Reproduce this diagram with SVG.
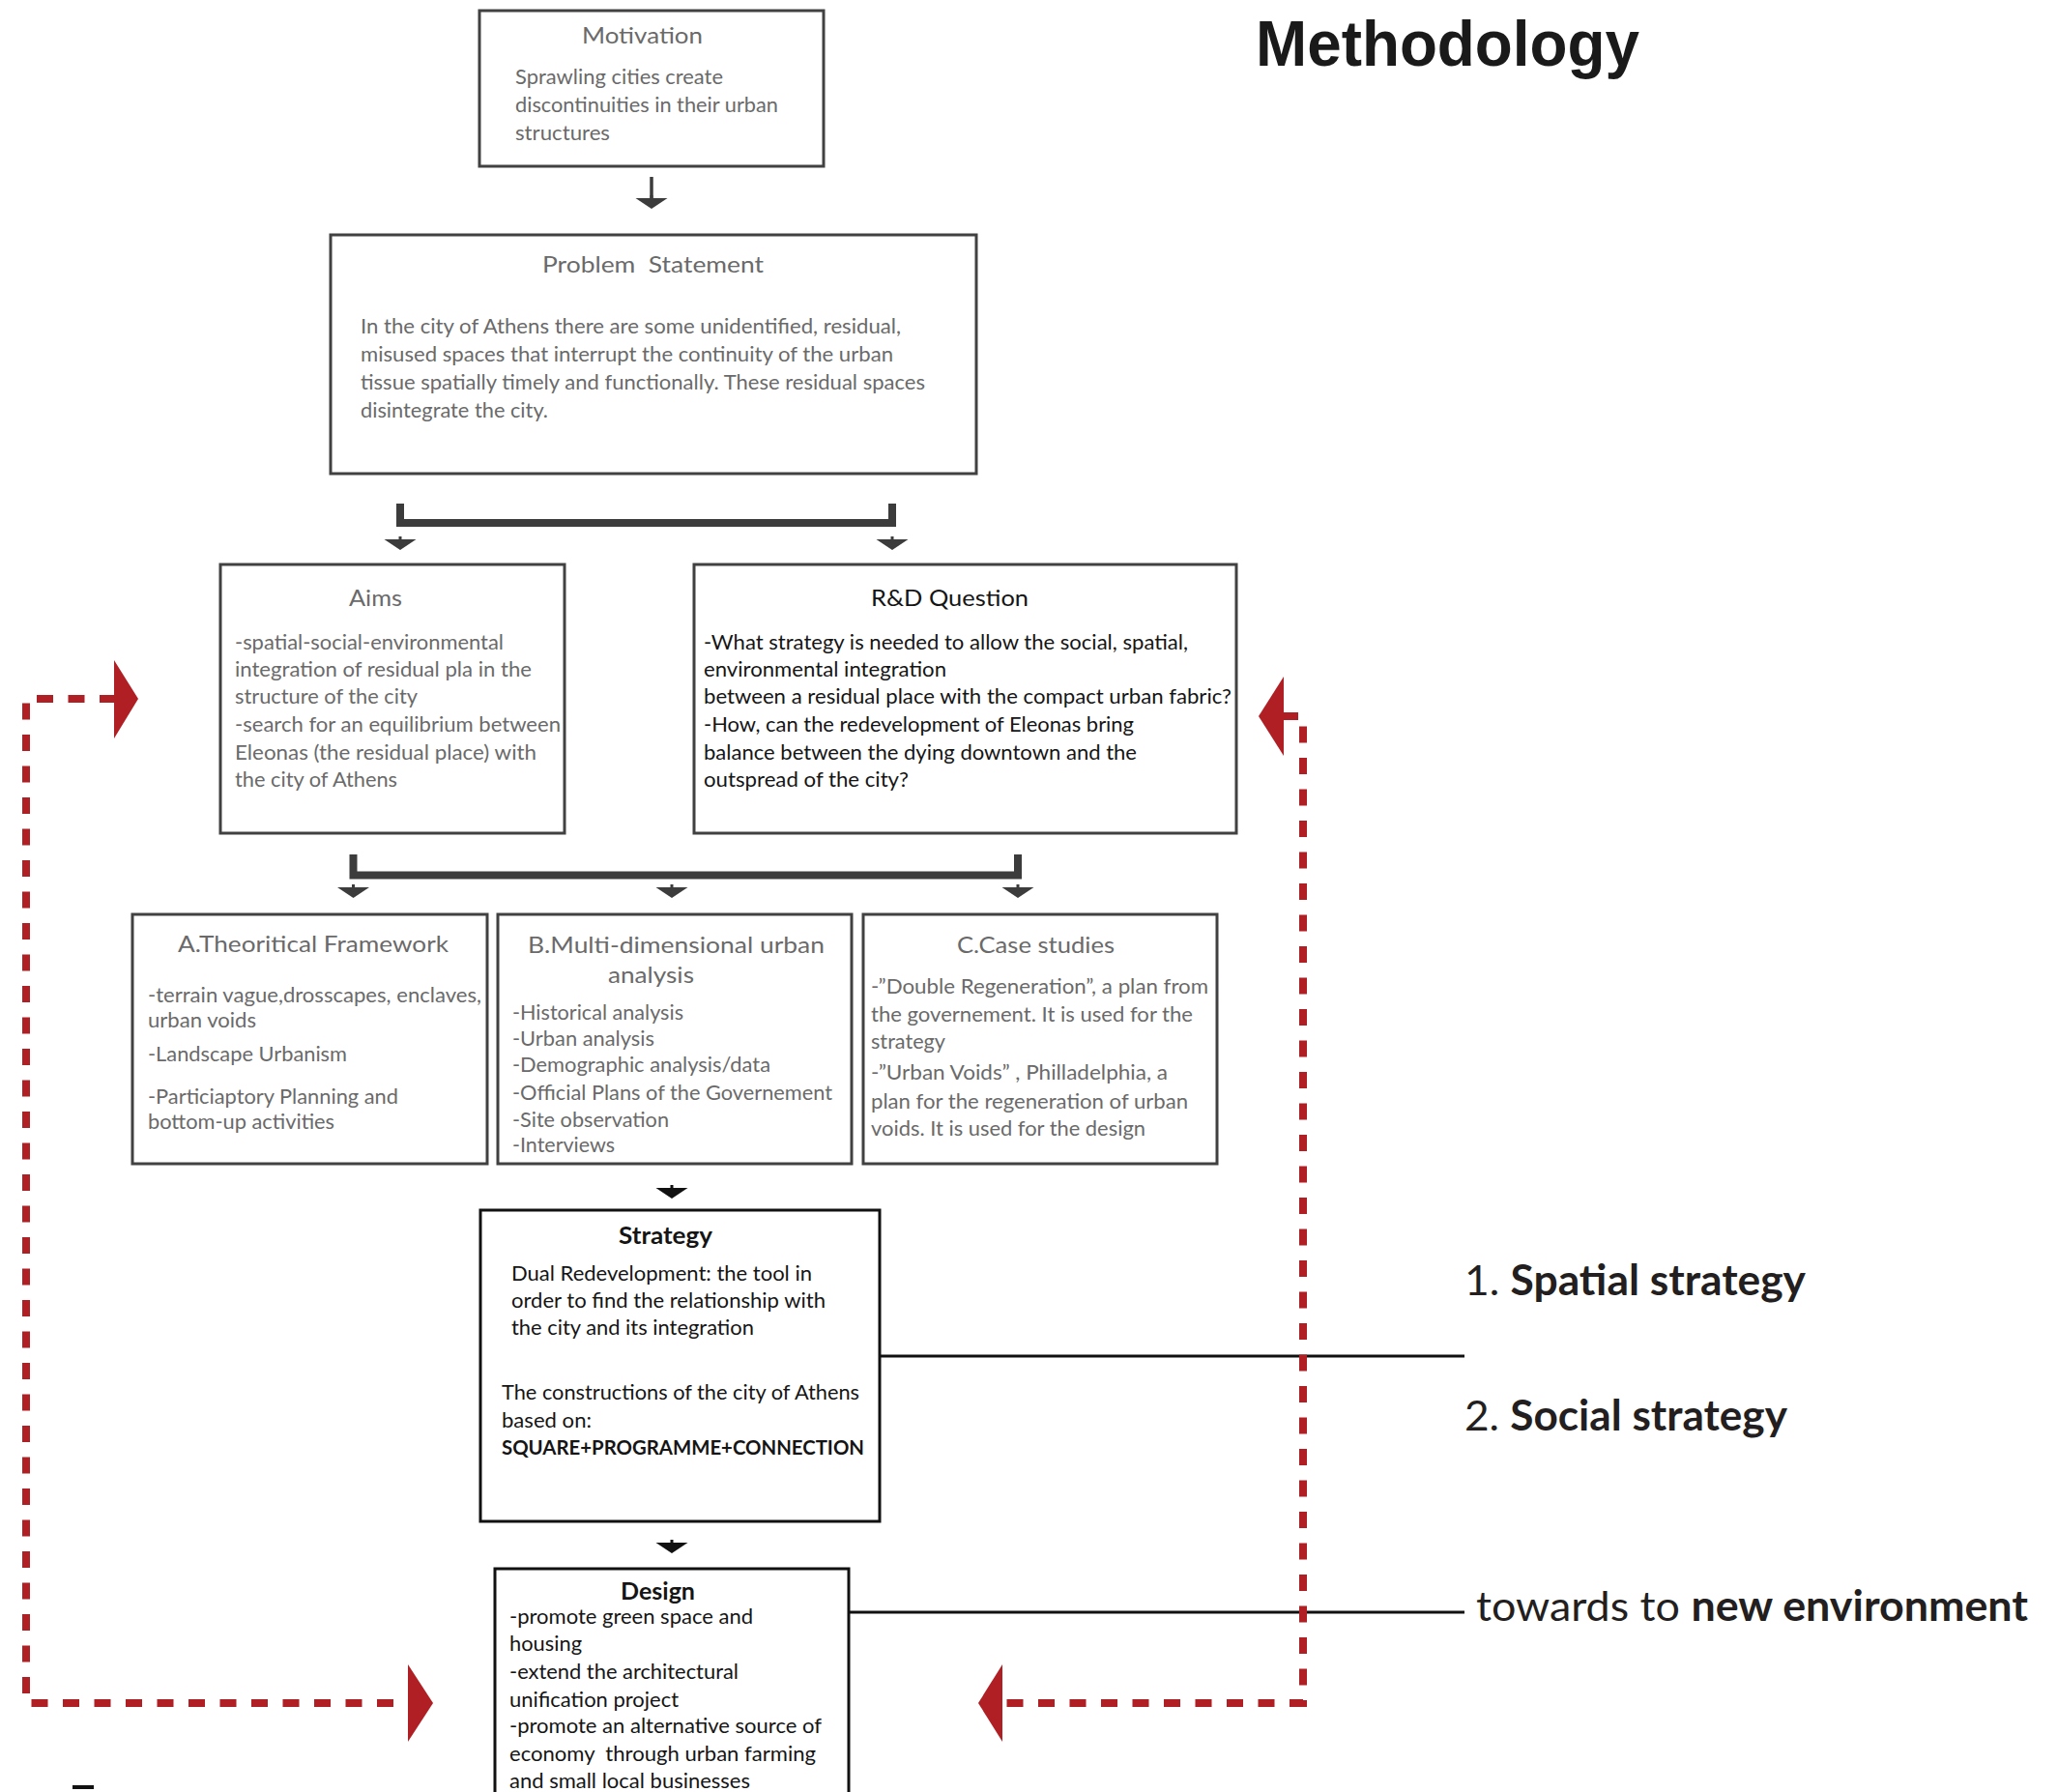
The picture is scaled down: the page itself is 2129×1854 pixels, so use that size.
<svg xmlns="http://www.w3.org/2000/svg" width="2129" height="1854" viewBox="0 0 2129 1854">
<style>
.bx{fill:#fff;stroke:#414141;stroke-width:3}
.bk{fill:#fff;stroke:#111;stroke-width:3}
.t{font-family:Lato,"Open Sans","Liberation Sans",sans-serif;font-size:21px}
.ti{font-family:Lato,"Open Sans","Liberation Sans",sans-serif;font-size:24px}
.g{fill:#6a6a6a}
.k{fill:#151515}
.b{font-weight:bold}
.big{font-family:Lato,"Open Sans","Liberation Sans",sans-serif;font-size:43px;fill:#231f20}
.red{fill:none;stroke:#AF1F24;stroke-width:8;stroke-dasharray:17 15.5}
.redh{fill:#AF1F24}
.br{fill:none;stroke:#3c3c3c;stroke-width:8}
.ln{fill:none;stroke:#111;stroke-width:3}
</style>
<defs>
<path id="ah" d="M -16.5 0 L 16.5 0 L 0 11 Z M -1.5 -3 H 1.5 V 0.5 H -1.5 Z"/>
</defs>

<g id="connectors">
<path d="M 674 183 V 206" stroke="#3c3c3c" stroke-width="3.5" fill="none"/>
<use href="#ah" x="674" y="205" fill="#3c3c3c"/>
<path class="br" d="M 414 521 V 541 H 923 V 521"/>
<use href="#ah" x="414" y="558" fill="#3c3c3c"/>
<use href="#ah" x="923" y="558" fill="#3c3c3c"/>
<path class="br" d="M 365.5 884 V 905.5 H 1053 V 884"/>
<use href="#ah" x="365.5" y="918" fill="#3c3c3c"/>
<use href="#ah" x="695" y="918" fill="#3c3c3c"/>
<use href="#ah" x="1053" y="918" fill="#3c3c3c"/>
<use href="#ah" x="695" y="1229" fill="#111"/>
<use href="#ah" x="695" y="1596" fill="#111"/>
<path class="ln" d="M 910 1403 H 1515"/>
<path class="ln" d="M 878 1668 H 1515"/>
<path class="red" d="M 120 723 H 27 V 1762 H 424"/>
<polygon class="redh" points="118,683 143,723 118,764"/>
<polygon class="redh" points="422,1722 448,1762 422,1802"/>
<path class="red" d="M 1326 741 H 1348 V 1762 H 1035"/>
<polygon class="redh" points="1328,700 1302,741 1328,782"/>
<polygon class="redh" points="1037,1722 1012,1762 1037,1802"/>
</g>

<g id="motivation">
<rect class="bx" x="496" y="11" width="356" height="161"/>
<text class="ti g" x="602" y="45" textLength="125" lengthAdjust="spacingAndGlyphs">Motivation</text>
<text class="t g" x="533" y="87" textLength="215" lengthAdjust="spacingAndGlyphs">Sprawling cities create</text>
<text class="t g" x="533" y="116" textLength="272" lengthAdjust="spacingAndGlyphs">discontinuities in their urban</text>
<text class="t g" x="533" y="145" textLength="98" lengthAdjust="spacingAndGlyphs">structures</text>
</g>

<g id="problem">
<rect class="bx" x="342" y="243" width="668" height="247"/>
<text class="ti g" x="561" y="282" textLength="229" lengthAdjust="spacingAndGlyphs" xml:space="preserve">Problem  Statement</text>
<text class="t g" x="373" y="345" textLength="559" lengthAdjust="spacingAndGlyphs">In the city of Athens there are some unidentified, residual,</text>
<text class="t g" x="373" y="374" textLength="551" lengthAdjust="spacingAndGlyphs">misused spaces that interrupt the continuity of the urban</text>
<text class="t g" x="373" y="403" textLength="584" lengthAdjust="spacingAndGlyphs">tissue spatially timely and functionally. These residual spaces</text>
<text class="t g" x="373" y="432" textLength="194" lengthAdjust="spacingAndGlyphs">disintegrate the city.</text>
</g>

<g id="aims">
<rect class="bx" x="228" y="584" width="356" height="278"/>
<text class="ti g" x="361" y="627" textLength="55" lengthAdjust="spacingAndGlyphs">Aims</text>
<text class="t g" x="243" y="672" textLength="278" lengthAdjust="spacingAndGlyphs">-spatial-social-environmental</text>
<text class="t g" x="243" y="700" textLength="307" lengthAdjust="spacingAndGlyphs">integration of residual pla in the</text>
<text class="t g" x="243" y="728" textLength="189" lengthAdjust="spacingAndGlyphs">structure of the city</text>
<text class="t g" x="243" y="757" textLength="337" lengthAdjust="spacingAndGlyphs">-search for an equilibrium between</text>
<text class="t g" x="243" y="786" textLength="312" lengthAdjust="spacingAndGlyphs">Eleonas (the residual place) with</text>
<text class="t g" x="243" y="814" textLength="168" lengthAdjust="spacingAndGlyphs">the city of Athens</text>
</g>

<g id="rdquestion">
<rect class="bx" x="718" y="584" width="561" height="278"/>
<text class="ti k" x="901" y="627" textLength="163" lengthAdjust="spacingAndGlyphs">R&amp;D Question</text>
<text class="t k" x="728" y="672" textLength="501" lengthAdjust="spacingAndGlyphs">-What strategy is needed to allow the social, spatial,</text>
<text class="t k" x="728" y="700" textLength="251" lengthAdjust="spacingAndGlyphs">environmental integration</text>
<text class="t k" x="728" y="728" textLength="546" lengthAdjust="spacingAndGlyphs">between a residual place with the compact urban fabric?</text>
<text class="t k" x="728" y="757" textLength="445" lengthAdjust="spacingAndGlyphs">-How, can the redevelopment of Eleonas bring</text>
<text class="t k" x="728" y="786" textLength="448" lengthAdjust="spacingAndGlyphs">balance between the dying downtown and the</text>
<text class="t k" x="728" y="814" textLength="212" lengthAdjust="spacingAndGlyphs">outspread of the city?</text>
</g>

<g id="theoretical">
<rect class="bx" x="137" y="946" width="367" height="258"/>
<text class="ti g" x="184" y="985" textLength="280" lengthAdjust="spacingAndGlyphs">A.Theoritical Framework</text>
<text class="t g" x="153" y="1037" textLength="345" lengthAdjust="spacingAndGlyphs">-terrain vague,drosscapes, enclaves,</text>
<text class="t g" x="153" y="1063" textLength="112" lengthAdjust="spacingAndGlyphs">urban voids</text>
<text class="t g" x="153" y="1098" textLength="206" lengthAdjust="spacingAndGlyphs">-Landscape Urbanism</text>
<text class="t g" x="153" y="1142" textLength="259" lengthAdjust="spacingAndGlyphs">-Particiaptory Planning and</text>
<text class="t g" x="153" y="1168" textLength="193" lengthAdjust="spacingAndGlyphs">bottom-up activities</text>
</g>

<g id="analysis">
<rect class="bx" x="515" y="946" width="366" height="258"/>
<text class="ti g" x="546" y="986" textLength="307" lengthAdjust="spacingAndGlyphs">B.Multi-dimensional urban</text>
<text class="ti g" x="629" y="1017" textLength="89" lengthAdjust="spacingAndGlyphs">analysis</text>
<text class="t g" x="530" y="1055" textLength="177" lengthAdjust="spacingAndGlyphs">-Historical analysis</text>
<text class="t g" x="530" y="1082" textLength="147" lengthAdjust="spacingAndGlyphs">-Urban analysis</text>
<text class="t g" x="530" y="1109" textLength="267" lengthAdjust="spacingAndGlyphs">-Demographic analysis/data</text>
<text class="t g" x="530" y="1138" textLength="331" lengthAdjust="spacingAndGlyphs">-Official Plans of the Governement</text>
<text class="t g" x="530" y="1166" textLength="162" lengthAdjust="spacingAndGlyphs">-Site observation</text>
<text class="t g" x="530" y="1192" textLength="106" lengthAdjust="spacingAndGlyphs">-Interviews</text>
</g>

<g id="casestudies">
<rect class="bx" x="893" y="946" width="366" height="258"/>
<text class="ti g" x="990" y="986" textLength="163" lengthAdjust="spacingAndGlyphs">C.Case studies</text>
<text class="t g" x="901" y="1028" textLength="349" lengthAdjust="spacingAndGlyphs">-”Double Regeneration”, a plan from</text>
<text class="t g" x="901" y="1057" textLength="333" lengthAdjust="spacingAndGlyphs">the governement. It is used for the</text>
<text class="t g" x="901" y="1085" textLength="77" lengthAdjust="spacingAndGlyphs">strategy</text>
<text class="t g" x="901" y="1117" textLength="307" lengthAdjust="spacingAndGlyphs">-”Urban Voids” , Philladelphia, a</text>
<text class="t g" x="901" y="1147" textLength="328" lengthAdjust="spacingAndGlyphs">plan for the regeneration of urban</text>
<text class="t g" x="901" y="1175" textLength="284" lengthAdjust="spacingAndGlyphs">voids. It is used for the design</text>
</g>

<g id="strategy">
<rect class="bk" x="497" y="1252" width="413" height="322"/>
<text class="ti k b" x="640" y="1287" textLength="97" lengthAdjust="spacingAndGlyphs">Strategy</text>
<text class="t k" x="529" y="1325" textLength="311" lengthAdjust="spacingAndGlyphs">Dual Redevelopment: the tool in</text>
<text class="t k" x="529" y="1353" textLength="325" lengthAdjust="spacingAndGlyphs">order to find the relationship with</text>
<text class="t k" x="529" y="1381" textLength="251" lengthAdjust="spacingAndGlyphs">the city and its integration</text>
<text class="t k" x="519" y="1448" textLength="370" lengthAdjust="spacingAndGlyphs">The constructions of the city of Athens</text>
<text class="t k" x="519" y="1477" textLength="93" lengthAdjust="spacingAndGlyphs">based on:</text>
<text class="t k b" x="519" y="1505" textLength="375" lengthAdjust="spacingAndGlyphs">SQUARE+PROGRAMME+CONNECTION</text>
</g>

<g id="design">
<rect class="bk" x="512" y="1623" width="366" height="270"/>
<text class="ti k b" x="642" y="1655" textLength="77" lengthAdjust="spacingAndGlyphs">Design</text>
<text class="t k" x="527" y="1680" textLength="252" lengthAdjust="spacingAndGlyphs">-promote green space and</text>
<text class="t k" x="527" y="1708" textLength="75" lengthAdjust="spacingAndGlyphs">housing</text>
<text class="t k" x="527" y="1737" textLength="237" lengthAdjust="spacingAndGlyphs">-extend the architectural</text>
<text class="t k" x="527" y="1766" textLength="175" lengthAdjust="spacingAndGlyphs">unification project</text>
<text class="t k" x="527" y="1793" textLength="323" lengthAdjust="spacingAndGlyphs">-promote an alternative source of</text>
<text class="t k" x="527" y="1822" textLength="317" lengthAdjust="spacingAndGlyphs" xml:space="preserve">economy  through urban farming</text>
<text class="t k" x="527" y="1850" textLength="249" lengthAdjust="spacingAndGlyphs">and small local businesses</text>
</g>

<g id="labels">
<text x="1299" y="68" font-family="'Liberation Sans',Arial,sans-serif" font-size="66" font-weight="bold" fill="#1a1a1a" textLength="397" lengthAdjust="spacingAndGlyphs">Methodology</text>
<text class="big" x="1515" y="1340" textLength="353" lengthAdjust="spacingAndGlyphs">1. <tspan class="b">Spatial strategy</tspan></text>
<text class="big" x="1515" y="1480" textLength="334" lengthAdjust="spacingAndGlyphs">2. <tspan class="b">Social strategy</tspan></text>
<text class="big" x="1527" y="1677" textLength="571" lengthAdjust="spacingAndGlyphs">towards to <tspan class="b">new environment</tspan></text>
</g>
<rect x="75" y="1847" width="22" height="4" fill="#111"/>
</svg>
